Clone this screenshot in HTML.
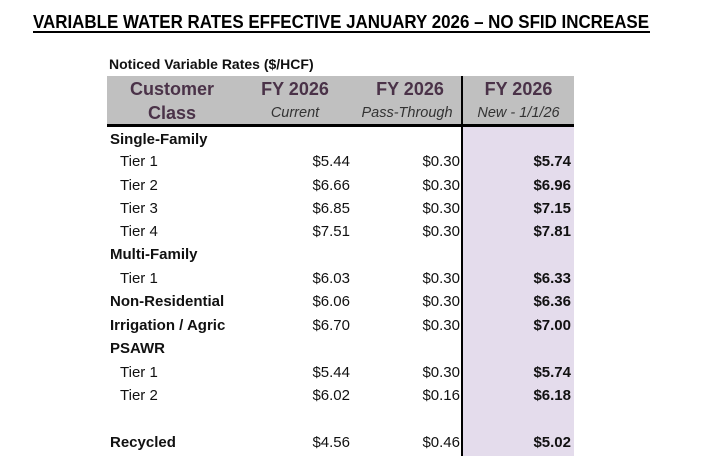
<!DOCTYPE html>
<html><head><meta charset="utf-8"><style>
body{margin:0;width:704px;height:464px;background:#fff;position:relative;overflow:hidden;font-family:"Liberation Sans",sans-serif;}
.a{position:absolute;white-space:nowrap;}
.l{font-size:15px;color:#111;}
.b{font-weight:bold;}
.r{text-align:right;width:100px;font-size:15px;color:#111;}
.h{font-weight:bold;font-size:18px;color:#4a3248;text-align:center;}
.s{font-style:italic;font-size:14.5px;color:#333;text-align:center;}
</style></head><body>
<svg class="a" style="left:0;top:0" width="704" height="40">
<text x="33" y="28" font-family="Liberation Sans" font-weight="bold" font-size="18" textLength="616" lengthAdjust="spacingAndGlyphs" fill="#000">VARIABLE WATER RATES EFFECTIVE JANUARY 2026 – NO SFID INCREASE</text>
<rect x="33" y="31" width="617" height="2" fill="#000"/>
</svg>
<div class="a b" style="left:109px;top:56px;font-size:14px;color:#111">Noticed Variable Rates ($/HCF)</div>
<div class="a" style="left:107px;top:76px;width:467px;height:48px;background:#c0c0c0"></div>
<div class="a" style="left:107px;top:124px;width:467px;height:3px;background:#000"></div>
<div class="a" style="left:463px;top:127px;width:111px;height:329px;background:#e4dcec"></div>
<div class="a" style="left:461px;top:76px;width:2px;height:380px;background:#000"></div>
<div class="a h" style="left:107px;top:79px;width:130px">Customer</div>
<div class="a h" style="left:107px;top:103px;width:130px">Class</div>
<div class="a h" style="left:245px;top:79px;width:100px">FY 2026</div>
<div class="a s" style="left:245px;top:105px;width:100px">Current</div>
<div class="a h" style="left:355px;top:79px;width:110px">FY 2026</div>
<div class="a s" style="left:352px;top:105px;width:110px">Pass-Through</div>
<div class="a h" style="left:463px;top:79px;width:111px">FY 2026</div>
<div class="a s" style="left:463px;top:105px;width:111px">New - 1/1/26</div>

<div class="a l b" style="left:110px;top:131px">Single-Family</div>
<div class="a l" style="left:120px;top:153px">Tier 1</div><div class="a r" style="left:250px;top:153px">$5.44</div><div class="a r" style="left:360px;top:153px">$0.30</div><div class="a r b" style="left:471px;top:153px">$5.74</div>
<div class="a l" style="left:120px;top:177px">Tier 2</div><div class="a r" style="left:250px;top:177px">$6.66</div><div class="a r" style="left:360px;top:177px">$0.30</div><div class="a r b" style="left:471px;top:177px">$6.96</div>
<div class="a l" style="left:120px;top:200px">Tier 3</div><div class="a r" style="left:250px;top:200px">$6.85</div><div class="a r" style="left:360px;top:200px">$0.30</div><div class="a r b" style="left:471px;top:200px">$7.15</div>
<div class="a l" style="left:120px;top:223px">Tier 4</div><div class="a r" style="left:250px;top:223px">$7.51</div><div class="a r" style="left:360px;top:223px">$0.30</div><div class="a r b" style="left:471px;top:223px">$7.81</div>
<div class="a l b" style="left:110px;top:246px">Multi-Family</div>
<div class="a l" style="left:120px;top:270px">Tier 1</div><div class="a r" style="left:250px;top:270px">$6.03</div><div class="a r" style="left:360px;top:270px">$0.30</div><div class="a r b" style="left:471px;top:270px">$6.33</div>
<div class="a l b" style="left:110px;top:293px">Non-Residential</div><div class="a r" style="left:250px;top:293px">$6.06</div><div class="a r" style="left:360px;top:293px">$0.30</div><div class="a r b" style="left:471px;top:293px">$6.36</div>
<div class="a l b" style="left:110px;top:317px">Irrigation / Agric</div><div class="a r" style="left:250px;top:317px">$6.70</div><div class="a r" style="left:360px;top:317px">$0.30</div><div class="a r b" style="left:471px;top:317px">$7.00</div>
<div class="a l b" style="left:110px;top:340px">PSAWR</div>
<div class="a l" style="left:120px;top:364px">Tier 1</div><div class="a r" style="left:250px;top:364px">$5.44</div><div class="a r" style="left:360px;top:364px">$0.30</div><div class="a r b" style="left:471px;top:364px">$5.74</div>
<div class="a l" style="left:120px;top:387px">Tier 2</div><div class="a r" style="left:250px;top:387px">$6.02</div><div class="a r" style="left:360px;top:387px">$0.16</div><div class="a r b" style="left:471px;top:387px">$6.18</div>
<div class="a l b" style="left:110px;top:434px">Recycled</div><div class="a r" style="left:250px;top:434px">$4.56</div><div class="a r" style="left:360px;top:434px">$0.46</div><div class="a r b" style="left:471px;top:434px">$5.02</div>
</body></html>
